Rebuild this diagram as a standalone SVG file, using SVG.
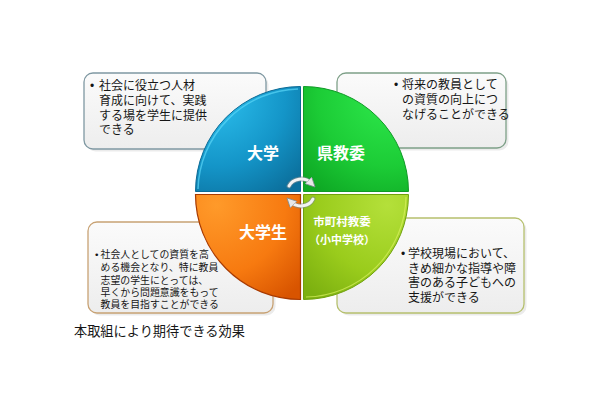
<svg xmlns="http://www.w3.org/2000/svg" width="610" height="400" viewBox="0 0 610 400">
<style>
.t{font-family:"Liberation Sans","Noto Sans CJK JP",sans-serif;fill:#161616}
.s12{font-size:12px}
.s11{font-size:9.9px}
.q{font-family:"Noto Sans CJK JP",sans-serif;fill:#ffffff;font-weight:bold;text-anchor:middle}
.box{stroke-width:1.3}
.arc{fill:none;stroke:#f2f2f2;stroke-width:3;stroke-linecap:round}
.arco{fill:none;stroke:#7c8a90;stroke-width:5;stroke-linecap:round;opacity:0.6}
</style>
<defs>
<linearGradient id="bf" x1="0" y1="0" x2="0" y2="1">
<stop offset="0" stop-color="#fbfbfb"/>
<stop offset="1" stop-color="#ededed"/>
</linearGradient>
<radialGradient id="gBlue" cx="0.2" cy="0.1" r="1.1">
<stop offset="0" stop-color="#2cc0ee"/>
<stop offset="0.6" stop-color="#1495c8"/>
<stop offset="1" stop-color="#0b6f9c"/>
</radialGradient>
<radialGradient id="gGreen" cx="0.8" cy="0.1" r="1.1">
<stop offset="0" stop-color="#2ee84c"/>
<stop offset="0.6" stop-color="#1ccc36"/>
<stop offset="1" stop-color="#0ea824"/>
</radialGradient>
<radialGradient id="gOrange" cx="0.2" cy="0.1" r="1.1">
<stop offset="0" stop-color="#ff9a2a"/>
<stop offset="0.6" stop-color="#f77a10"/>
<stop offset="1" stop-color="#d85400"/>
</radialGradient>
<radialGradient id="gLime" cx="0.8" cy="0.1" r="1.1">
<stop offset="0" stop-color="#b4e03a"/>
<stop offset="0.6" stop-color="#9acc1c"/>
<stop offset="1" stop-color="#7cb010"/>
</radialGradient>
<marker id="ah" viewBox="0 0 10 10" refX="4" refY="5" markerWidth="3.2" markerHeight="3.2" orient="auto" markerUnits="strokeWidth">
<path d="M0,0 L10,5 L0,10 Z" fill="#e8e8e8" stroke="#7c8a90" stroke-width="0.8"/>
</marker>
</defs>

<g id="box-tl">
<rect x="85" y="74" width="182" height="76" rx="9" fill="#000" opacity="0.08" transform="translate(1.5,1.5)"/>
<rect class="box" x="84" y="73" width="182" height="76" rx="9" fill="url(#bf)" stroke="#7f98a2"/>
<text class="t s12" x="90" y="90">•</text>
<text class="t s12" x="99" y="90">社会に役立つ人材</text>
<text class="t s12" x="99" y="105">育成に向けて、実践</text>
<text class="t s12" x="99" y="119.5">する場を学生に提供</text>
<text class="t s12" x="99" y="134">できる</text>
</g>

<g id="box-tr">
<rect x="338" y="74" width="169" height="75" rx="9" fill="#000" opacity="0.08" transform="translate(1.5,1.5)"/>
<rect class="box" x="337" y="73" width="169" height="75" rx="9" fill="url(#bf)" stroke="#7ea088"/>
<text class="t s12" x="394" y="89">•</text>
<text class="t s12" x="402" y="89">将来の教員として</text>
<text class="t s12" x="402" y="104">の資質の向上につ</text>
<text class="t s12" x="402" y="119">なげることができる</text>
</g>

<g id="box-bl">
<rect x="89" y="223" width="185" height="91" rx="9" fill="#000" opacity="0.08" transform="translate(1.5,1.5)"/>
<rect class="box" x="88" y="222" width="185" height="91" rx="9" fill="url(#bf)" stroke="#c8a274"/>
<text class="t s11" x="95" y="258">•</text>
<text class="t s11" x="100.5" y="258">社会人としての資質を高</text>
<text class="t s11" x="100.5" y="271">める機会となり、特に教員</text>
<text class="t s11" x="100.5" y="284">志望の学生にとっては、</text>
<text class="t s11" x="100.5" y="296">早くから問題意識をもって</text>
<text class="t s11" x="100.5" y="308">教員を目指すことができる</text>
</g>

<g id="box-br">
<rect x="338" y="219" width="187" height="95" rx="9" fill="#000" opacity="0.08" transform="translate(1.5,1.5)"/>
<rect class="box" x="337" y="218" width="187" height="95" rx="9" fill="url(#bf)" stroke="#b6c06e"/>
<text class="t s12" x="401" y="258">•</text>
<text class="t s12" x="408" y="258">学校現場において、</text>
<text class="t s12" x="408" y="273">きめ細かな指導や障</text>
<text class="t s12" x="408" y="287">害のある子どもへの</text>
<text class="t s12" x="408" y="302">支援ができる</text>
</g>

<g id="q-daigaku">
<path d="M300.5,191.5 L195.5,191.5 A105,105 0 0 1 300.5,86.5 Z" fill="url(#gBlue)" stroke="#0a6a95" stroke-width="1"/>
<path d="M198,189 A103,103 0 0 1 298,89" fill="none" stroke="#5ad6f6" stroke-width="1.5" opacity="0.7"/>
<text class="q" x="263" y="159" font-size="16">大学</text>
</g>

<g id="q-kenkyoui">
<path d="M303.5,191.5 L303.5,86.5 A105,105 0 0 1 408.5,191.5 Z" fill="url(#gGreen)" stroke="#0f9a26" stroke-width="1"/>
<text class="q" x="341" y="159" font-size="16">県教委</text>
</g>

<g id="q-gakusei">
<path d="M300.5,194.5 L300.5,299.5 A105,105 0 0 1 195.5,194.5 Z" fill="url(#gOrange)" stroke="#a83a00" stroke-width="1.2"/>
<text class="q" x="263" y="238" font-size="16">大学生</text>
</g>

<g id="q-shichoson">
<path d="M303.5,194.5 L408.5,194.5 A105,105 0 0 1 303.5,299.5 Z" fill="url(#gLime)" stroke="#6fa00c" stroke-width="1"/>
<path d="M406,197 A102,102 0 0 1 306,297" fill="none" stroke="#d8f060" stroke-width="1.2" opacity="0.7"/>
<text class="q" x="342" y="226" font-size="11.5">市町村教委</text>
<text class="q" x="342" y="244" font-size="11">（小中学校）</text>
</g>

<g id="connectors">
<path class="arco" d="M289,186 A13,11 0 0 1 311,183"/>
<path class="arc" d="M289,186 A13,11 0 0 1 311,183" marker-end="url(#ah)"/>
<path class="arco" d="M313,199 A13,11 0 0 1 291,202"/>
<path class="arc" d="M313,199 A13,11 0 0 1 291,202" marker-end="url(#ah)"/>
</g>

<text class="t" x="74" y="336" font-size="13.2" fill="#222" font-family="Noto Sans CJK JP, sans-serif">本取組により期待できる効果</text>
</svg>
